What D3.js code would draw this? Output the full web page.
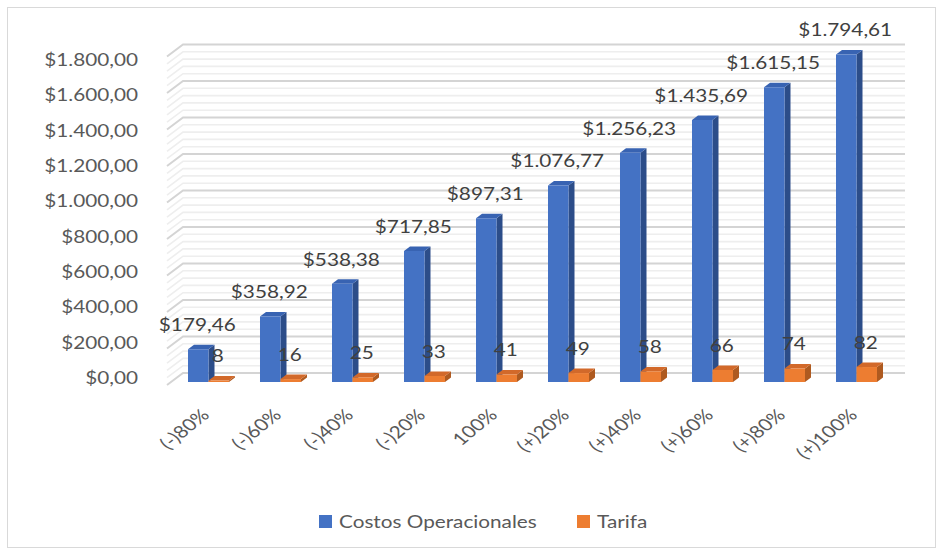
<!DOCTYPE html>
<html>
<head>
<meta charset="utf-8">
<script src="https://cdn.jsdelivr.net/npm/d3@7/dist/d3.min.js"></script>
<style>
  html, body { margin: 0; padding: 0; background: #ffffff; }
  svg { display: block; }
  text { font-family: Lato, "Open Sans", sans-serif; }
</style>
</head>
<body>
<svg id="chart" width="942" height="554"></svg>
<script>
// Scenario categories and the two series
const categories = ["(-)80%", "(-)60%", "(-)40%", "(-)20%", "100%", "(+)20%", "(+)40%", "(+)60%", "(+)80%", "(+)100%"];
const costos = [179.46, 358.92, 538.38, 717.85, 897.31, 1076.77, 1256.23, 1435.69, 1615.15, 1794.61];
const tarifa = [8, 16, 25, 33, 41, 49, 58, 66, 74, 82];
const seriesNames = ["Costos Operacionales", "Tarifa"];
const yTicks = [0, 200, 400, 600, 800, 1000, 1200, 1400, 1600, 1800];

const svg = d3.select("#chart");

// Spanish-style currency formatting: $1.794,61
const loc = d3.formatLocale({ decimal: ",", thousands: ".", grouping: [3], currency: ["$", ""] });
const fmtMoney = loc.format("$,.2f");
const fmtInt = loc.format(",.0f");

// Text is drawn slightly widened
const FONT = 17, SX = 1.22;
const txt = (g, px, py) => g.append("text").attr("transform", `translate(${px},${py}) scale(${SX},1)`);

// Oblique 3D projection: x along categories, h = pixel height of value, z = depth (0 front, 1 back)
const X0 = 167, Y0 = 385, DX = 16, DY = 12, PLOT_W = 722;
const proj = (x, h, z) => [X0 + x + DX * z, Y0 - h - DY * z];

const y = d3.scaleLinear().domain([0, 1800]).range([0, 328.5]);
const yLabel = d3.scaleLinear().domain([0, 1800]).range([378, 60]);
const x = d3.scaleBand().domain(categories).range([1.5, 721.5]);
const xs = d3.scaleBand().domain(seriesNames).range([0, x.bandwidth()]).paddingOuter(0.756);

const colors = {
  "Costos Operacionales": { front: "#4472C4", side: "#2C4D89", top: "#3863B2" },
  "Tarifa": { front: "#ED7D31", side: "#AE5A20", top: "#D2692A" }
};

// Chart frame
svg.append("rect").attr("x", 7.5).attr("y", 7.5).attr("width", 928).attr("height", 540)
  .attr("fill", "#fff").attr("stroke", "#d9d9d9").attr("stroke-width", 1);

// Back wall and side wall gridlines (major every 200, minor every 40)
const gridVals = d3.range(0, 1800 + 1, 40);
const grid = svg.append("g");
gridVals.forEach(v => {
  const major = v % 200 === 0;
  const h = y(v);
  const a = proj(0, h, 0), b = proj(0, h, 1), c = proj(PLOT_W, h, 1);
  grid.append("path")
    .attr("d", `M${a[0]},${a[1]}L${b[0]},${b[1]}L${c[0]},${c[1]}`)
    .attr("fill", "none")
    .attr("stroke", major ? "#d4d4d4" : "#eeeeee")
    .attr("stroke-width", major ? 2 : 1.6);
});

// Bars as 3D boxes
const zf = 0.25, zb = 0.625;
const poly = pts => "M" + pts.map(p => p.join(",")).join("L") + "Z";
const bars = svg.append("g");
const barData = [];
categories.forEach((cat, i) => {
  barData.push({ cat, s: seriesNames[0], v: costos[i] });
  barData.push({ cat, s: seriesNames[1], v: tarifa[i] });
});
barData.forEach(d => {
  const x1 = x(d.cat) + xs(d.s), w = xs.bandwidth(), h = y(d.v);
  const col = colors[d.s];
  const g = bars.append("g");
  g.append("path").attr("d", poly([proj(x1 + w, 0, zf), proj(x1 + w, 0, zb), proj(x1 + w, h, zb), proj(x1 + w, h, zf)]))
    .attr("fill", col.side);
  g.append("path").attr("d", poly([proj(x1, h, zf), proj(x1 + w, h, zf), proj(x1 + w, h, zb), proj(x1, h, zb)]))
    .attr("fill", col.top);
  g.append("path").attr("d", poly([proj(x1, 0, zf), proj(x1 + w, 0, zf), proj(x1 + w, h, zf), proj(x1, h, zf)]))
    .attr("fill", col.front);
});

// Value labels
const labels = svg.append("g").attr("font-size", FONT).attr("fill", "#404040").attr("text-anchor", "middle");
barData.forEach(d => {
  const x1 = x(d.cat) + xs(d.s), w = xs.bandwidth(), h = y(d.v);
  const p = proj(x1 + w / 2, h, zf);
  txt(labels, p[0] - 1, p[1] - 24).attr("dy", "0.35em")
    .text(d.s === seriesNames[0] ? fmtMoney(d.v) : fmtInt(d.v));
});

// Value axis labels
const yAxis = svg.append("g").attr("font-size", FONT).attr("fill", "#595959").attr("text-anchor", "end");
yTicks.forEach(v => {
  txt(yAxis, 138, yLabel(v)).attr("dy", "0.35em").text(fmtMoney(v));
});

// Category axis labels, rotated
const xAxis = svg.append("g").attr("font-size", FONT).attr("fill", "#595959").attr("text-anchor", "end");
categories.forEach(cat => {
  const p = proj(x(cat) + x.bandwidth() / 2, 0, 0);
  xAxis.append("text")
    .attr("transform", `translate(${p[0] + 6},${416}) scale(${SX},1) rotate(-45)`)
    .text(cat);
});

// Legend
const legend = svg.append("g").attr("font-size", FONT).attr("fill", "#595959");
const legendX = [319, 577];
seriesNames.forEach((s, i) => {
  legend.append("rect").attr("x", legendX[i]).attr("y", 515).attr("width", 13).attr("height", 13)
    .attr("fill", colors[s].front);
  txt(legend, legendX[i] + 20, 522).attr("dy", "0.35em").text(s);
});
</script>
</body>
</html>
